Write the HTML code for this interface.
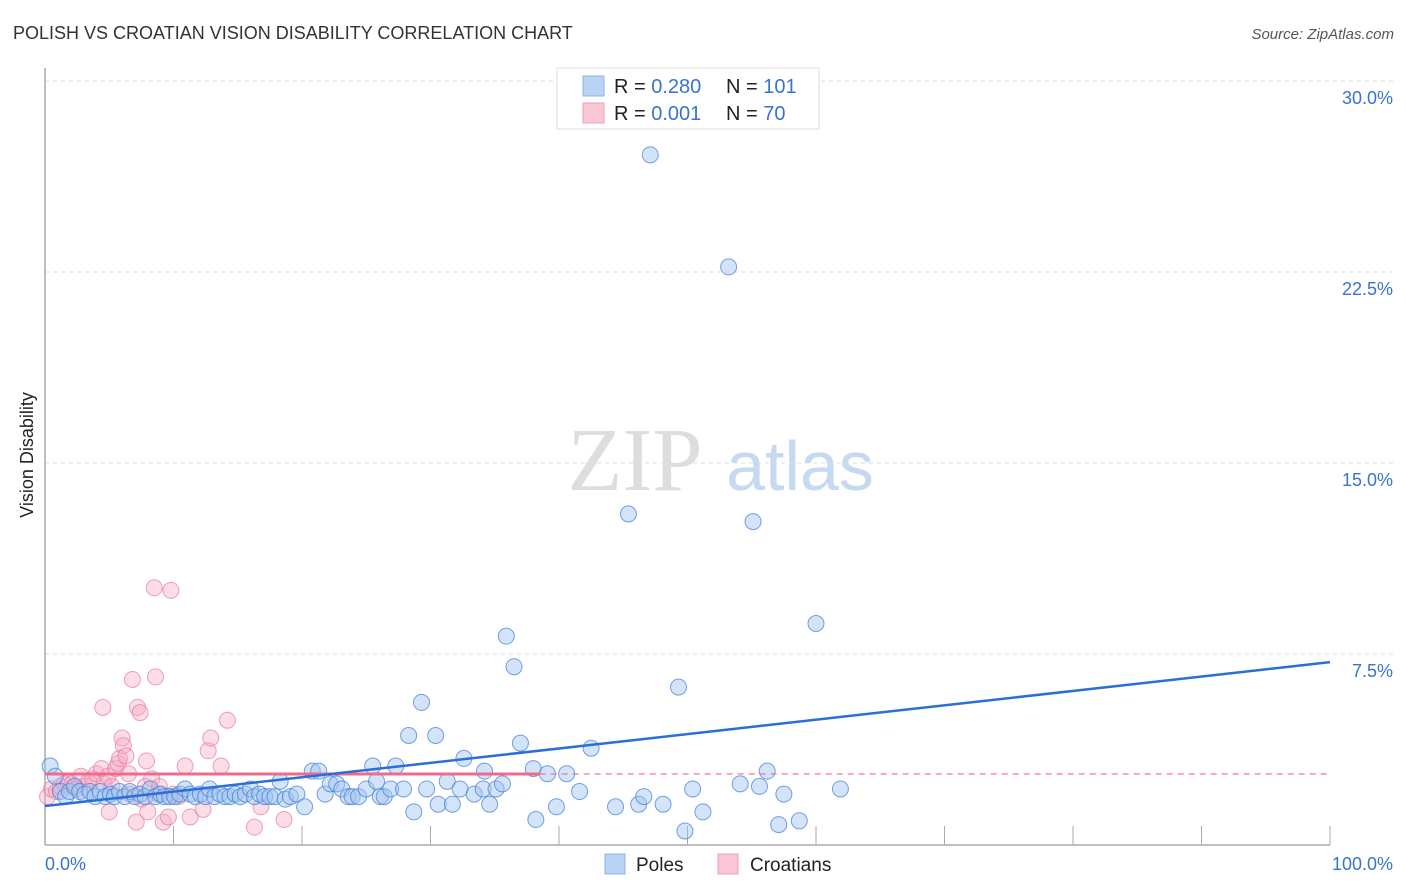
<!DOCTYPE html>
<html><head><meta charset="utf-8">
<style>
body{margin:0;background:#fff;font-family:"Liberation Sans",sans-serif;}
svg{display:block}
</style></head>
<body>
<svg id="chart" width="1406" height="892">
<text x="13" y="39" font-size="18" fill="#333">POLISH VS CROATIAN VISION DISABILITY CORRELATION CHART</text>
<text x="1394" y="39" font-size="15" fill="#555" font-style="italic" text-anchor="end">Source: ZipAtlas.com</text>
<text x="33" y="455" font-size="18" fill="#222" transform="rotate(-90 33 455)" text-anchor="middle">Vision Disability</text>
<text x="635" y="490" font-size="90" fill="#ddd" font-family="Liberation Serif" text-anchor="middle">ZIP</text>
<text x="800" y="490" font-size="70" fill="#c5d9f1" text-anchor="middle">atlas</text>
<g id="grid"></g>
<g id="axes"></g>
<g id="pinkPts"></g>
<g id="bluePts"></g>
<g id="trends"></g>
<g>
<rect x="557" y="68" width="262" height="61" fill="#fff" stroke="#ddd"/>
<rect x="583" y="76" width="21" height="20" fill="#b9d3f5" stroke="#8fb4e8"/>
<rect x="583" y="103" width="21" height="20" fill="#f9c6d5" stroke="#ee9fb6"/>
<text x="614" y="93" font-size="20" fill="#222">R = <tspan fill="#3a72d1">0.280</tspan></text>
<text x="726" y="93" font-size="20" fill="#222">N = <tspan fill="#3a72d1">101</tspan></text>
<text x="614" y="120" font-size="20" fill="#222">R = <tspan fill="#3a72d1">0.001</tspan></text>
<text x="726" y="120" font-size="20" fill="#222">N = <tspan fill="#3a72d1"> 70</tspan></text>
</g>
<g>
<rect x="605" y="854" width="20" height="20" fill="#b9d3f5" stroke="#8fb4e8"/>
<text x="636" y="871" font-size="19" fill="#222">Poles</text>
<rect x="718" y="854" width="20" height="20" fill="#f9c6d5" stroke="#ee9fb6"/>
<text x="750" y="871" font-size="19" fill="#222">Croatians</text>
</g>
</svg>
<script>
const yTicks=[7.5,15,22.5,30];
const yTickLabels=["7.5%","15.0%","22.5%","30.0%"];
const xTickLabels=["0.0%","100.0%"];
const polesX=[0.4,0.8,1.2,1.6,1.9,2.3,2.7,3.1,3.5,3.9,4.3,4.7,5.1,5.4,5.8,6.2,6.6,7,7.4,7.8,8.2,8.6,9,9.3,9.7,10.1,10.5,10.9,11.3,11.7,12.1,12.5,12.8,13.2,13.6,14,14.4,14.8,15.2,15.6,16,16.3,16.7,17.1,17.5,17.9,18.3,18.7,19.1,19.6,20.2,20.8,21.3,21.8,22.2,22.7,23.1,23.6,23.9,24.4,25,25.5,25.8,26.1,26.4,26.9,27.3,27.9,28.3,28.7,29.3,29.7,30.4,30.6,31.3,31.7,32.3,32.6,33.4,34.1,34.2,34.6,35.1,35.6,35.9,36.5,37,38,38.2,39.1,39.8,40.6,41.6,42.5,44.4,45.4,46.2,46.6,47.1,48.1,49.3,49.8,50.4,51.2,53.2,54.1,55.1,55.6,56.2,57.1,57.5,58.7,60,61.9,65.4,75.3,78.4,87.8];
const polesY=[3.1,2.7,2.1,1.9,2.1,2.3,2.1,2,2.1,1.9,2.1,1.9,2,1.9,2.1,1.9,2.1,1.9,2,1.9,2.2,1.9,2,1.9,1.9,1.9,2,2.2,2,1.9,2,1.9,2.2,1.9,2,1.9,1.9,2,1.9,2,2.2,1.9,2,1.9,1.9,1.9,2.5,1.8,1.9,2,1.5,2.9,2.9,2,2.4,2.4,2.2,1.9,1.9,1.9,2.2,3.1,2.5,1.9,1.9,2.2,3.1,2.2,4.3,1.3,5.6,2.2,4.3,1.6,2.5,1.6,2.2,3.4,2,2.2,2.9,1.6,2.2,2.4,8.2,7,4,3.0,1.0,2.8,1.5,2.8,2.1,3.8,1.5,13,1.6,1.9,27.1,1.6,6.2,0.55,2.2,1.3,22.7,2.4,12.7,2.3,2.9,0.8,2,0.95,8.7,2.2];
const croX=[0.2,0.5,0.9,1.2,1.5,1.8,2.1,2.4,2.8,3.1,3.4,3.7,4,4.4,4.5,4.6,4.9,5,5.2,5.5,5.7,5.8,6,6.1,6.3,6.5,6.6,6.8,7.1,7.2,7.4,7.5,7.8,7.9,8,8.3,8.5,8.6,8.8,8.9,9.2,9.6,9.8,10,10.4,10.9,11.3,12.3,12.7,12.9,13.7,14.2,16.3,16.8,18.6,22.5,24.2,26.1,33.2];
const croY=[1.9,2.2,2.1,2.3,2.4,2.5,2.4,2.2,2.7,2.3,2.5,2.6,2.8,3,5.4,2.4,2.7,1.3,2.3,3,3.2,3.4,4.2,3.9,3.5,2.8,2,6.5,0.9,5.4,5.2,1.8,2.3,3.3,1.3,2.6,10.1,6.6,2,2.3,0.9,1.1,10,2,1.9,3.1,1.1,1.4,3.7,4.2,3.1,4.9,0.7,1.5,1.0];
// pad croY to croX length with estimates
const poleTrend=[1.53,7.18];
const croTrend=[2.79,2.79];
const X0=45,X1=1330,Y0=845,YPX=191/7.5;
const xs=v=>X0+(X1-X0)*v/100, ys=v=>Y0-v*YPX;
const NS="http://www.w3.org/2000/svg";
function mk(tag,attrs,parent){const e=document.createElementNS(NS,tag);for(const k in attrs)e.setAttribute(k,attrs[k]);parent.appendChild(e);return e;}
const grid=document.getElementById('grid'),axes=document.getElementById('axes');
yTicks.forEach((t,i)=>{
 const g=mk('line',{x1:X0,x2:1393,y1:ys(t),y2:ys(t),stroke:'#ddd','stroke-dasharray':'4,4'},grid);
 
 
 const l=mk('text',{x:1393,y:ys(t)+23,'font-size':18,fill:'#3a72d1','text-anchor':'end'},axes);
 l.textContent=yTickLabels[i];
 
 
});
const xa=mk('line',{x1:X0,x2:X1,y1:Y0,y2:Y0,stroke:'#aaa','stroke-width':1.5},axes);


const ya=mk('line',{x1:X0,x2:X0,y1:68,y2:Y0,stroke:'#aaa','stroke-width':1.5},axes);


for(let i=1;i<=10;i++){
 const t=mk('line',{x1:xs(i*10),x2:xs(i*10),y1:826,y2:Y0,stroke:'#aaa'},axes);
 
 
}
const xl0=mk('text',{x:45,y:870,'font-size':18,fill:'#3a72d1'},axes);xl0.textContent=xTickLabels[0];


const xl1=mk('text',{x:1393,y:870,'font-size':18,fill:'#3a72d1','text-anchor':'end'},axes);xl1.textContent=xTickLabels[1];


const pp=document.getElementById('pinkPts');
croX.forEach((x,i)=>{ if(croY[i]===undefined)return;
 const c=mk('circle',{cx:xs(x),cy:ys(croY[i]),r:8,fill:'rgba(246,170,195,0.4)',stroke:'rgba(236,120,155,0.7)'},pp);
 
 
});
const bp=document.getElementById('bluePts');
polesX.forEach((x,i)=>{ if(polesY[i]===undefined)return;
 const c=mk('circle',{cx:xs(x),cy:ys(polesY[i]),r:8,fill:'rgba(160,195,240,0.45)',stroke:'rgba(70,130,220,0.75)'},bp);
 
 
});
const tr=document.getElementById('trends');
const ct=mk('line',{x1:xs(0),x2:xs(38.5),y1:ys(croTrend[0]),y2:ys(croTrend[0]+(croTrend[1]-croTrend[0])*0.385),stroke:'#ec6b8f','stroke-width':3},tr);


const cd=mk('line',{x1:xs(38.5),x2:xs(100),y1:ys(croTrend[0]),y2:ys(croTrend[1]),stroke:'#ec6b8f','stroke-width':1.2,'stroke-dasharray':'6,5'},tr);


const pt=mk('line',{x1:xs(0),x2:xs(100),y1:ys(poleTrend[0]),y2:ys(poleTrend[1]),stroke:'#2a6fd6','stroke-width':2.5},tr);


</script>
</body></html>
